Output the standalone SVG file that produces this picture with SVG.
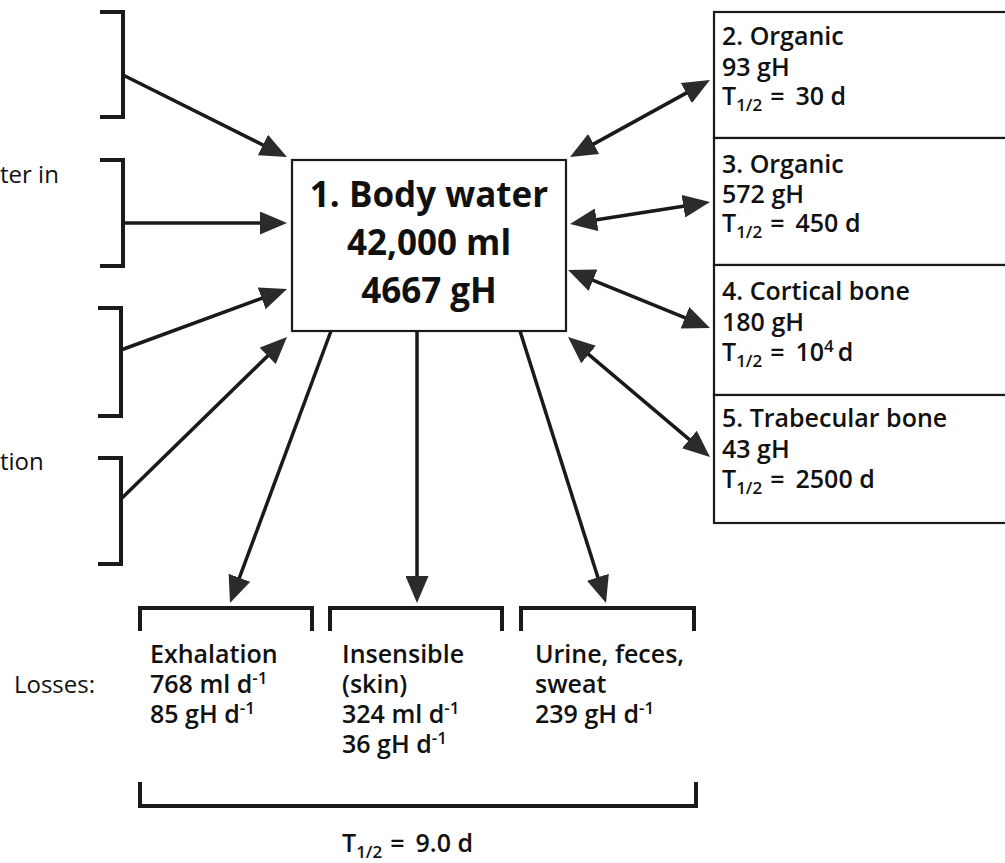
<svg xmlns="http://www.w3.org/2000/svg" width="1005" height="863" viewBox="0 0 1005 863">
<style>
.ln{stroke:#1a1a1a;stroke-width:3.5;fill:none}
.br{stroke:#1a1a1a;stroke-width:4;fill:none}
.bx{stroke:#1a1a1a;stroke-width:2.2;fill:#fff}
.t{font-family:"Open Sans","Noto Sans","DejaVu Sans",sans-serif;fill:#111}
.b{font-weight:600}
.big{font-size:35px;font-weight:700}
.m{font-size:25px}
.l{font-size:24px}
.sub{font-size:17px}
</style>
<defs>
<marker id="ah" viewBox="0 0 27 23" refX="21" refY="11.5" markerWidth="27" markerHeight="23" markerUnits="userSpaceOnUse" orient="auto-start-reverse">
<path d="M0,0 L27,11.5 L0,23 Z" fill="#2b2b2b"/>
</marker>
</defs>
<rect width="1005" height="863" fill="#fff"/>

<g id="src1"><path class="br" d="M100,12 H123 V117 H100"/></g>
<g id="src2"><path class="br" d="M100,160 H123 V266 H100"/><text class="t l" x="0" y="183">ter in</text></g>
<g id="src3"><path class="br" d="M98,308 H121 V416 H98"/></g>
<g id="src4"><path class="br" d="M98,458 H121 V564 H98"/><text class="t l" x="0" y="470">tion</text></g>

<g id="node1">
<rect class="bx" x="292" y="160" width="274" height="171"/>
<text class="t big" x="429" y="207" text-anchor="middle">1. Body water</text>
<text class="t big" x="429" y="255" text-anchor="middle">42,000 ml</text>
<text class="t big" x="429" y="303" text-anchor="middle">4667 gH</text>
</g>

<g id="node2">
<rect class="bx" x="714" y="12" width="300" height="126"/>
<text class="t b m" x="722" y="45">2. Organic</text>
<text class="t b m" x="722" y="76">93 gH</text>
<text class="t b m" x="722" y="105">T<tspan class="sub" dy="6">1/2</tspan><tspan dy="-6" dx="8">=</tspan><tspan dx="11">30 d</tspan></text>
</g>
<g id="node3">
<rect class="bx" x="714" y="138" width="300" height="127"/>
<text class="t b m" x="722" y="173">3. Organic</text>
<text class="t b m" x="722" y="203">572 gH</text>
<text class="t b m" x="722" y="232">T<tspan class="sub" dy="6">1/2</tspan><tspan dy="-6" dx="8">=</tspan><tspan dx="11">450 d</tspan></text>
</g>
<g id="node4">
<rect class="bx" x="714" y="265" width="300" height="130"/>
<text class="t b m" x="722" y="300">4. Cortical bone</text>
<text class="t b m" x="722" y="331">180 gH</text>
<text class="t b m" x="722" y="361">T<tspan class="sub" dy="6">1/2</tspan><tspan dy="-6" dx="8">=</tspan><tspan dx="11">10</tspan><tspan class="sub" dy="-9">4</tspan><tspan dy="9" dx="4">d</tspan></text>
</g>
<g id="node5">
<rect class="bx" x="714" y="395" width="300" height="128"/>
<text class="t b m" x="722" y="427">5. Trabecular bone</text>
<text class="t b m" x="722" y="458">43 gH</text>
<text class="t b m" x="722" y="488">T<tspan class="sub" dy="6">1/2</tspan><tspan dy="-6" dx="8">=</tspan><tspan dx="11">2500 d</tspan></text>
</g>

<g id="loss1">
<path class="br" d="M140,631 V608 H312 V631"/>
<text class="t b m" x="150" y="663">Exhalation</text>
<text class="t b m" x="150" y="693">768 ml d<tspan class="sub" dy="-9">-1</tspan></text>
<text class="t b m" x="150" y="723">85 gH d<tspan class="sub" dy="-9">-1</tspan></text>
</g>
<g id="loss2">
<path class="br" d="M330,631 V608 H502 V631"/>
<text class="t b m" x="342" y="663">Insensible</text>
<text class="t b m" x="342" y="693">(skin)</text>
<text class="t b m" x="342" y="723">324 ml d<tspan class="sub" dy="-9">-1</tspan></text>
<text class="t b m" x="342" y="753">36 gH d<tspan class="sub" dy="-9">-1</tspan></text>
</g>
<g id="loss3">
<path class="br" d="M521,631 V608 H694 V631"/>
<text class="t b m" x="535" y="663">Urine, feces,</text>
<text class="t b m" x="535" y="693">sweat</text>
<text class="t b m" x="535" y="723">239 gH d<tspan class="sub" dy="-9">-1</tspan></text>
</g>
<g id="losses">
<text class="t l" x="95" y="693" text-anchor="end">Losses:</text>
<path class="br" d="M140,782 V806 H696 V782"/>
<text class="t b m" x="342" y="852">T<tspan class="sub" dy="6">1/2</tspan><tspan dy="-6" dx="8">=</tspan><tspan dx="11">9.0 d</tspan></text>
</g>

<g id="connectors">
<line class="ln" x1="123" y1="75" x2="281.6" y2="154.3" marker-end="url(#ah)"/>
<line class="ln" x1="123" y1="223" x2="281" y2="223" marker-end="url(#ah)"/>
<line class="ln" x1="121" y1="350" x2="281.4" y2="291.1" marker-end="url(#ah)"/>
<line class="ln" x1="121" y1="499" x2="282.7" y2="341.2" marker-end="url(#ah)"/>
<line class="ln" x1="575.3" y1="154.1" x2="704.7" y2="82.9" marker-start="url(#ah)" marker-end="url(#ah)"/>
<line class="ln" x1="575.9" y1="223.1" x2="704.1" y2="202.9" marker-start="url(#ah)" marker-end="url(#ah)"/>
<line class="ln" x1="573.6" y1="272.3" x2="704.4" y2="325.7" marker-start="url(#ah)" marker-end="url(#ah)"/>
<line class="ln" x1="572.6" y1="340.9" x2="705.4" y2="453.1" marker-start="url(#ah)" marker-end="url(#ah)"/>
<line class="ln" x1="331" y1="331" x2="232.1" y2="597.4" marker-end="url(#ah)"/>
<line class="ln" x1="417" y1="331" x2="417" y2="597" marker-end="url(#ah)"/>
<line class="ln" x1="520" y1="331" x2="604.2" y2="597.3" marker-end="url(#ah)"/>
</g>
</svg>
